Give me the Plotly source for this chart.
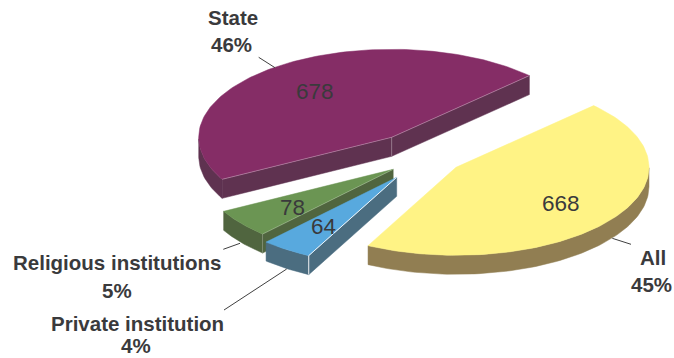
import numpy as np
import plotly.graph_objects as go

# ---- data ----
categories = ["State", "Religious institutions", "Private institution", "All"]
values = [678, 78, 64, 668]

# ---- styling / layout constants ----
top_colors = ["#852d66", "#6b9553", "#58a9de", "#fff385"]
side_colors = ["#5f3250", "#50653f", "#4b6d80", "#917e52"]
edge_colors = ["rgba(255,255,255,0.30)", "rgba(255,255,255,0.22)", "rgba(255,255,255,0.9)", "rgba(255,255,255,0)"]
apexes = [(391.7, 137.3), (393.2, 169.3), (396.7, 177.3), (456.0, 167.3)]
RX, RY, DEPTH, START = 193.0, 88.0, 19.0, 44.5
TEXT = "#3a3a3c"
FONT = "Liberation Sans, Arial, sans-serif"
value_pos = [(315, 91), (292, 207), (323, 226), (561, 203)]
label_pos = [
    [(233, 17), (231, 44)],
    [(117, 262), (117, 290)],
    [(137, 323), (136, 345.5)],
    [(653, 257), (651, 284)],
]
leaders = [
    [(258.7, 57.3), (275, 67.7)],
    [(223.3, 249.3), (240, 243.3)],
    [(224, 310), (286.7, 269)],
    [(612.3, 238.3), (631, 244.3)],
]


def add_poly(fig, xs, ys, color, name=None):
    fig.add_trace(go.Scatter(x=list(xs), y=list(ys), mode="lines", fill="toself", fillcolor=color,
                             line=dict(color=color, width=0.5), name=name,
                             hoverinfo="name" if name else "skip", showlegend=False))


fig = go.Figure()
total = sum(values)
angle = START
for i, v in enumerate(values):
    span = 360.0 * v / total
    a0, a1 = angle, angle + span
    angle = a1
    theta = np.radians(np.linspace(a0, a1, 120))
    cx, cy = apexes[i]
    ax = cx + RX * np.cos(theta)
    ay = cy - RY * np.sin(theta)

    # extruded side: only the faces turned towards the viewer
    front = np.sin(theta) <= 0
    if front.any():
        fx, fy = ax[front], ay[front]
        add_poly(fig, np.concatenate((fx, fx[::-1], fx[:1])),
                 np.concatenate((fy, fy[::-1] + DEPTH, fy[:1])), side_colors[i])
    if np.sin(np.radians(a0 - 90)) < 0:
        add_poly(fig, [cx, ax[0], ax[0], cx, cx], [cy, ay[0], ay[0] + DEPTH, cy + DEPTH, cy], side_colors[i])
    if np.sin(np.radians(a1 + 90)) < 0:
        add_poly(fig, [cx, ax[-1], ax[-1], cx, cx], [cy, ay[-1], ay[-1] + DEPTH, cy + DEPTH, cy], side_colors[i])
    # top face
    add_poly(fig, np.concatenate(([cx], ax, [cx])), np.concatenate(([cy], ay, [cy])),
             top_colors[i], categories[i])
    # pale highlight along the straight edges and the front corner
    if i == 0:
        ex = [ax[0], cx, ax[-1], None, cx, cx]
        ey = [ay[0], cy, ay[-1], None, cy, cy + DEPTH]
    elif i < 3:
        ex = [cx, ax[-1], ax[-1]]
        ey = [cy, ay[-1], ay[-1] + DEPTH]
    else:
        ex, ey = [], []
    if ex:
        fig.add_trace(go.Scatter(x=ex, y=ey, mode="lines", line=dict(color=edge_colors[i], width=1),
                                 hoverinfo="skip", showlegend=False))

# leader lines
for seg in leaders:
    fig.add_trace(go.Scatter(x=[p[0] for p in seg], y=[p[1] for p in seg], mode="lines",
                             line=dict(color="#404040", width=1), hoverinfo="skip", showlegend=False))

# value labels
for v, (x, y) in zip(values, value_pos):
    fig.add_annotation(x=x, y=y, xref="x", yref="y", text=str(v), showarrow=False,
                       font=dict(family=FONT, size=22.5, color=TEXT))
# category labels
for c, v, pos in zip(categories, values, label_pos):
    lines = [c, f"{round(100 * v / total)}%"]
    for t, (x, y) in zip(lines, pos):
        fig.add_annotation(x=x, y=y, xref="x", yref="y", text=f"<b>{t}</b>", showarrow=False,
                           font=dict(family=FONT, size=20.5, color=TEXT))

fig.update_layout(
    width=674, height=358, margin=dict(l=0, r=0, t=0, b=0),
    paper_bgcolor="white", plot_bgcolor="white", showlegend=False,
    xaxis=dict(range=[0, 674], visible=False, fixedrange=True),
    yaxis=dict(range=[358, 0], visible=False, fixedrange=True),
)
fig.write_html("out.html", config={"displayModeBar": False},
               post_script="document.body.style.margin='0';")
